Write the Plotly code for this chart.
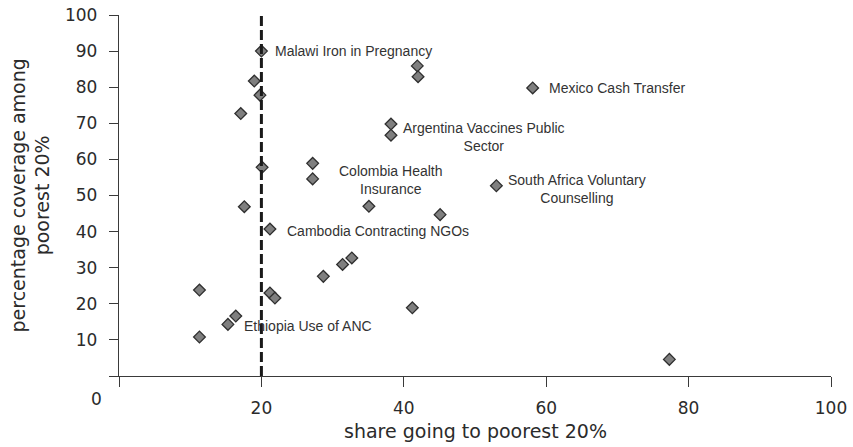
import plotly.graph_objects as go

# Data
share_poorest = [20.0, 19.0, 19.8, 17.1, 20.1, 27.2, 27.2, 17.6, 21.2, 11.3,
                 11.3, 15.3, 16.4, 21.2, 21.9, 28.7, 31.4, 32.7, 41.9, 42.0,
                 58.1, 38.2, 38.2, 53.0, 35.1, 45.1, 41.2, 77.3]
coverage_poorest = [90.0, 81.7, 77.8, 72.7, 57.8, 58.9, 54.6, 46.9, 40.7, 23.8,
                    10.8, 14.3, 16.6, 23.0, 21.6, 27.6, 30.9, 32.7, 85.9, 82.9,
                    79.8, 69.8, 66.7, 52.7, 47.0, 44.7, 18.9, 4.6]

labelled_names = ["Malawi Iron in Pregnancy", "Mexico Cash Transfer",
                  "Argentina Vaccines Public<br>Sector", "Colombia Health<br>Insurance",
                  "South Africa Voluntary<br>Counselling", "Cambodia Contracting NGOs",
                  "Ethiopia Use of ANC"]
labelled_x = [20.0, 58.1, 38.2, 27.2, 53.0, 21.2, 15.3]
labelled_y = [90.0, 79.8, 66.7, 54.6, 52.7, 40.7, 14.3]

threshold_share = 20

x_ticks = [0, 20, 40, 60, 80, 100]
x_ticklabels = ["", "20", "40", "60", "80", "100"]
y_ticks = [0, 10, 20, 30, 40, 50, 60, 70, 80, 90, 100]
y_ticklabels = ["", "10", "20", "30", "40", "50", "60", "70", "80", "90", "100"]

label_xshift = [12, 14, 10, 24, 10, 15, 14]
label_yshift = [0, 0, -2, -1, -3, -2, -2]

axis_color = "#3a3a3a"
text_color = "#2b2b2b"
tick_font = dict(family="DejaVu Sans", size=17, color=text_color)
title_font = dict(family="DejaVu Sans", size=19, color=text_color)
label_font = dict(family="Liberation Sans", size=14, color="#333333")

fig = go.Figure()

fig.add_trace(go.Scatter(
    x=share_poorest, y=coverage_poorest, mode="markers",
    marker=dict(symbol="diamond", size=9, color="#7f7f7f",
                line=dict(color="#2f2f2f", width=1.3)),
    showlegend=False, hoverinfo="x+y",
))

fig.add_shape(type="line", xref="x", yref="y",
              x0=threshold_share, x1=threshold_share, y0=0, y1=100,
              line=dict(color="#1a1a1a", width=3, dash="10px,4px"), layer="above")

for name, lx, ly, xs, ys in zip(labelled_names, labelled_x, labelled_y, label_xshift, label_yshift):
    fig.add_annotation(x=lx, y=ly, xref="x", yref="y", text=name, showarrow=False,
                       xanchor="left", yanchor="middle", align="center",
                       xshift=xs, yshift=ys, font=label_font)

# origin label, y-axis title and x-axis title
fig.add_annotation(x=-0.031, y=-0.065, xref="paper", yref="paper", text="0",
                   showarrow=False, xanchor="center", yanchor="middle", font=tick_font)
fig.add_annotation(x=-0.125, y=0.5, xref="paper", yref="paper",
                   text="percentage coverage among<br>poorest 20%", textangle=-90,
                   showarrow=False, xanchor="center", yanchor="middle", align="center",
                   font=title_font)
fig.add_annotation(x=0.5, y=-0.151, xref="paper", yref="paper",
                   text="share going to poorest 20%", showarrow=False,
                   xanchor="center", yanchor="middle", font=title_font)

fig.update_xaxes(range=[0, 100], tickvals=x_ticks, ticktext=x_ticklabels,
                 ticks="outside", ticklen=10, tickwidth=1.3, tickcolor=axis_color,
                 showline=True, linecolor=axis_color, linewidth=1.3,
                 showgrid=False, zeroline=False, tickfont=tick_font,
                 ticklabelstandoff=6, ticklabeloverflow="allow")
fig.update_yaxes(range=[0, 100], tickvals=y_ticks, ticktext=y_ticklabels,
                 ticks="outside", ticklen=9, tickwidth=1.3, tickcolor=axis_color,
                 showline=True, linecolor=axis_color, linewidth=1.3,
                 showgrid=False, zeroline=False, tickfont=tick_font,
                 ticklabelstandoff=8, ticklabeloverflow="allow")

fig.update_layout(width=853, height=447,
                  margin=dict(l=119, r=22, t=15, b=71, autoexpand=False),
                  plot_bgcolor="white", paper_bgcolor="white",
                  showlegend=False)

# remove the default page margin so the figure fills the window exactly
fig.write_html("out.html",
               config={"displayModeBar": False},
               post_script="document.body.style.margin='0';document.body.style.overflow='hidden';")
